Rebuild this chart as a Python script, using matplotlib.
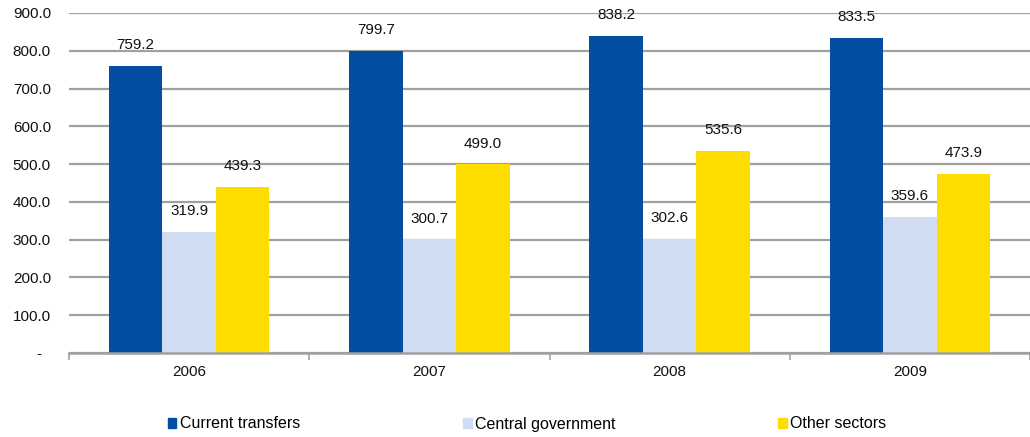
import matplotlib.pyplot as plt
import numpy as np
from matplotlib.patches import Patch
from matplotlib.ticker import FuncFormatter

plt.rcParams['font.family'] = ['Liberation Sans', 'DejaVu Sans']

years = ["2006", "2007", "2008", "2009"]
current_transfers = [759.2, 799.7, 838.2, 833.5]
central_government = [319.9, 300.7, 302.6, 359.6]
other_sectors = [439.3, 499.0, 535.6, 473.9]

series = [
    ("Current transfers", current_transfers, "#034ea2"),
    ("Central government", central_government, "#d0dcf2"),
    ("Other sectors", other_sectors, "#ffdd00"),
]

x = np.arange(len(years))
width = 0.223

fig = plt.figure(figsize=(10.30, 4.37), dpi=100)
ax = fig.add_axes([69 / 1030, 84 / 437, 961 / 1030, 340 / 437])

for i, (name, values, color) in enumerate(series):
    rects = ax.bar(x + (i - 1) * width, values, width, color=color, zorder=3, label=name)
    ax.bar_label(rects, labels=[f"{v:.1f}" for v in values], padding=10,
                 fontsize=11, color="#111111", clip_on=False)

ax.set_ylim(0, 900)
ax.set_yticks(np.arange(0, 901, 100))
ax.yaxis.set_major_formatter(FuncFormatter(lambda v, _: "-  " if v == 0 else f"{v:.1f}"))
ax.set_xlim(-0.5, -0.5 + 961 / 242)
ax.set_xticks(x, years)
ax.set_xticks(np.arange(-0.5, 4, 1), minor=True)

ax.grid(axis="y", color="#a0a0a0", linewidth=1.6, zorder=0)
ax.tick_params(axis="y", length=0, pad=13, labelsize=11, labelcolor="#111111")
ax.tick_params(axis="x", which="major", length=0, pad=9, labelsize=11, labelcolor="#111111")
ax.tick_params(axis="x", which="minor", length=5, width=1.2, color="#a0a0a0")

for side in ("left", "right", "top"):
    ax.spines[side].set_visible(False)
ax.spines["bottom"].set_color("#a0a0a0")
ax.spines["bottom"].set_linewidth(1.8)
ax.spines["bottom"].set_zorder(4)

handles = [Patch(color=c, label=n) for n, _, c in series]
fig.legend(handles=handles, loc="center", bbox_to_anchor=(0.5 + 12 / 1030, 13 / 437), ncols=3,
           frameon=False, fontsize=11.5, handlelength=0.55, handleheight=0.55,
           handletextpad=0.2, columnspacing=10.2)

fig.savefig("out.png", dpi=100)
